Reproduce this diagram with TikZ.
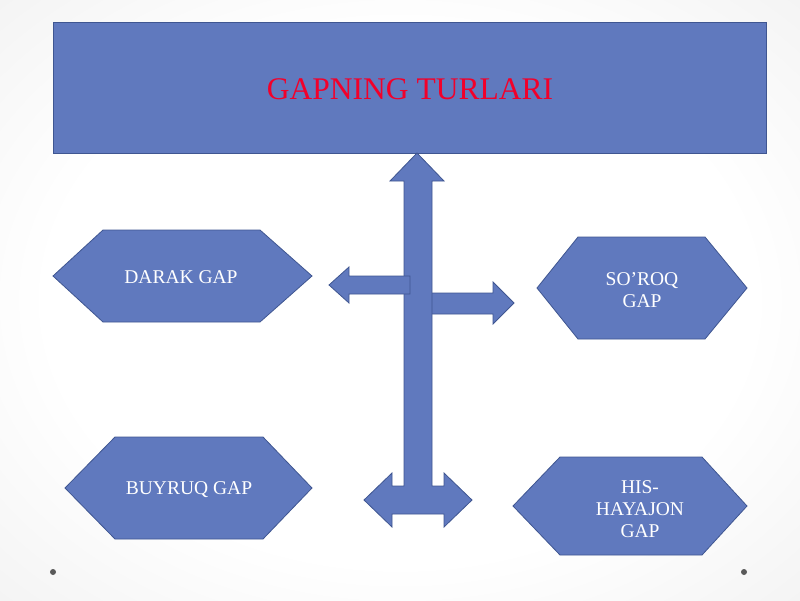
\documentclass[tikz,border=0pt]{standalone}
\usepackage{fontspec}
\setmainfont{Liberation Serif}
\usepackage{tikz}
\usetikzlibrary{positioning}
\usepackage{xcolor}
\definecolor{slideblue}{HTML}{6079BE}
\definecolor{slideedge}{HTML}{3F5691}
\definecolor{titlered}{HTML}{F2002A}
\pgfdeclareradialshading{slideback}{\pgfpoint{0bp}{0bp}}{color(0bp)=(white); color(22bp)=(white); color(50bp)=(black!9); color(72bp)=(black!12)}
\tikzset{
  blockshape/.style={fill=slideblue, draw=slideedge, line width=0.8pt, line join=miter},
  hextext/.style={text=white, align=center, font=\fontsize{19.5}{22}\selectfont, inner sep=0pt},
  titletext/.style={text=titlered, font=\fontsize{31.5}{36}\selectfont, inner sep=0pt}
}

\begin{document}
\begin{tikzpicture}[x=1pt,y=-1pt]
	\useasboundingbox (0,0) rectangle (800,600);
	\shade[shading=slideback] (0,0) rectangle (800,600);
	\fill[black!65] (53,572) circle (3);
	\fill[black!65] (744,572) circle (3);
	% title box
	\draw[blockshape] (53,22) rectangle (766,153);
	\node[titletext] (title) at (410,89) {GAPNING TURLARI};
	% arrows
	\draw[blockshape] (420,293) -- (493,293) -- (493,282) -- (514,303) -- (493,324) -- (493,314) -- (420,314) -- cycle;
	\draw[blockshape] (417,153) -- (444,181) -- (432,181) -- (432,486) -- (444,486) -- (444,473) -- (472,500)
		-- (444,527) -- (444,514) -- (392,514) -- (392,527) -- (364,500) -- (392,473) -- (392,486)
		-- (404,486) -- (404,181) -- (390,181) -- cycle;
	\draw[blockshape] (329,285) -- (349,267) -- (349,276) -- (410,276) -- (410,294) -- (349,294) -- (349,303) -- cycle;
	% hexagons
	\draw[blockshape] (53,276) -- (103,230) -- (260,230) -- (312,276) -- (260,322) -- (103,322) -- cycle;
	\node[hextext] (darak) at (181,277) {DARAK GAP};
	\draw[blockshape] (537,288) -- (578,237) -- (705,237) -- (747,288) -- (705,339) -- (578,339) -- cycle;
	\node[hextext] (soroq) at (642,290) {SO’ROQ\\GAP};
	\draw[blockshape] (65,488) -- (115,437) -- (263,437) -- (312,488) -- (263,539) -- (115,539) -- cycle;
	\node[hextext] (buyruq) at (189,490) {BUYRUQ GAP};
	\draw[blockshape] (513,506) -- (560,457) -- (702,457) -- (747,506) -- (702,555) -- (560,555) -- cycle;
	\node[hextext] (hayajon) at (640,509) {HIS-\\HAYAJON\\GAP};
\end{tikzpicture}
\end{document}
